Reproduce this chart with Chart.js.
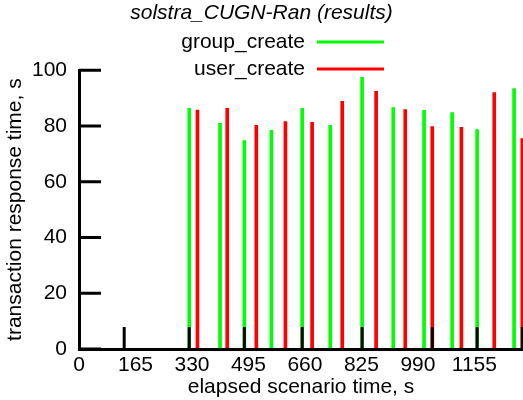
<!DOCTYPE html>
<html>
<head>
<meta charset="utf-8">
<title>solstra_CUGN-Ran (results)</title>
<script src="https://cdn.jsdelivr.net/npm/chart.js@4"></script>
<style>
  html, body { margin: 0; padding: 0; background: #fff; }
  #wrap { width: 523px; height: 400px; }
</style>
</head>
<body>
<div id="wrap"><canvas id="resultsChart" width="523" height="400"></canvas></div>
<script>
// elapsed scenario time (s) of each sample and its response time (s)
const groupTimes = [322, 412, 483, 562, 652, 734, 827, 918, 1008, 1090, 1163, 1271];
const groupValues = [86.3, 80.9, 74.8, 78.4, 86.3, 80.2, 97.4, 86.6, 85.6, 84.8, 78.7, 93.4];
const userTimes = [346, 433, 518, 603, 681, 769, 868, 953, 1032, 1117, 1213, 1295];
const userValues = [85.7, 86.3, 80.2, 81.6, 81.3, 88.8, 92.4, 85.9, 79.8, 79.5, 92.0, 75.5];

// axis labels and the inward tic marks
const xLabels = [0, 165, 330, 495, 660, 825, 990, 1155];
const xTickMarks = [132, 322, 483, 652, 827, 1032, 1163, 1295];
const yTicks = [0, 20, 40, 60, 80, 100];

const FONT = '"Liberation Sans", Arial, sans-serif';
const TIC = 22;

const toPoints = (xs, ys) => xs.map((x, i) => ({ x: x, y: ys[i] }));

// gnuplot-style tics drawn from the border into the plot
const inwardTics = {
  id: 'inwardTics',
  afterDatasetsDraw(chart) {
    const { ctx, chartArea, scales } = chart;
    ctx.save();
    ctx.strokeStyle = '#000';
    ctx.lineWidth = 3;
    ctx.beginPath();
    xTickMarks.forEach(t => {
      const px = scales.x.getPixelForValue(t);
      ctx.moveTo(px, chartArea.bottom);
      ctx.lineTo(px, chartArea.bottom - TIC);
    });
    yTicks.forEach(v => {
      const py = scales.y.getPixelForValue(v);
      ctx.moveTo(chartArea.left, py);
      ctx.lineTo(chartArea.left + TIC, py);
    });
    ctx.stroke();
    ctx.restore();
  }
};

// key in the top right: label first, then a sample of the line
const keyLegend = {
  id: 'keyLegend',
  afterDraw(chart) {
    const { ctx } = chart;
    ctx.save();
    ctx.font = '21px ' + FONT;
    ctx.textAlign = 'right';
    ctx.textBaseline = 'middle';
    chart.data.datasets.forEach((ds, i) => {
      const yy = 42 + i * 27;
      ctx.fillStyle = '#000';
      ctx.fillText(ds.label, 305, yy);
      ctx.strokeStyle = ds.backgroundColor;
      ctx.lineWidth = 3;
      ctx.beginPath();
      ctx.moveTo(317, yy);
      ctx.lineTo(384, yy);
      ctx.stroke();
    });
    ctx.restore();
  }
};

new Chart(document.getElementById('resultsChart'), {
  type: 'bar',
  data: {
    datasets: [
      { label: 'group_create', data: toPoints(groupTimes, groupValues), backgroundColor: '#00ff00' },
      { label: 'user_create', data: toPoints(userTimes, userValues), backgroundColor: '#ff0000' }
    ]
  },
  options: {
    responsive: false,
    animation: false,
    grouped: false,
    barThickness: 3,
    layout: { padding: 0 },
    plugins: {
      legend: { display: false },
      tooltip: { enabled: false },
      title: {
        display: true,
        text: 'solstra_CUGN-Ran (results)',
        color: '#000',
        font: { family: FONT, size: 21, style: 'italic', weight: 'normal' },
        padding: { top: 1, bottom: 44 }
      }
    },
    scales: {
      x: {
        type: 'linear',
        min: 0,
        max: 1297,
        offset: false,
        grid: { display: false, drawTicks: false },
        border: { display: true, color: '#000', width: 3, z: 1 },
        afterBuildTicks: s => { s.ticks = xLabels.map(v => ({ value: v })); },
        afterFit: s => { s.height = 51; },
        ticks: {
          autoSkip: false,
          maxRotation: 0,
          padding: 4,
          color: '#000',
          font: { family: FONT, size: 21 },
          callback: v => String(v)
        },
        title: {
          display: true,
          text: 'elapsed scenario time, s',
          color: '#000',
          font: { family: FONT, size: 21 },
          padding: { top: 0, bottom: 0 }
        }
      },
      y: {
        min: 0,
        max: 100,
        grid: { display: false, drawTicks: false },
        border: { display: true, color: '#000', width: 3, z: 1 },
        afterBuildTicks: s => { s.ticks = yTicks.map(v => ({ value: v })); },
        afterFit: s => { s.width = 79; },
        ticks: {
          padding: 12,
          color: '#000',
          font: { family: FONT, size: 21 },
          callback: v => String(v)
        },
        title: {
          display: true,
          text: 'transaction response time, s',
          color: '#000',
          font: { family: FONT, size: 21 },
          padding: { top: 3, bottom: 0 }
        }
      }
    }
  },
  plugins: [inwardTics, keyLegend]
});
</script>
</body>
</html>
